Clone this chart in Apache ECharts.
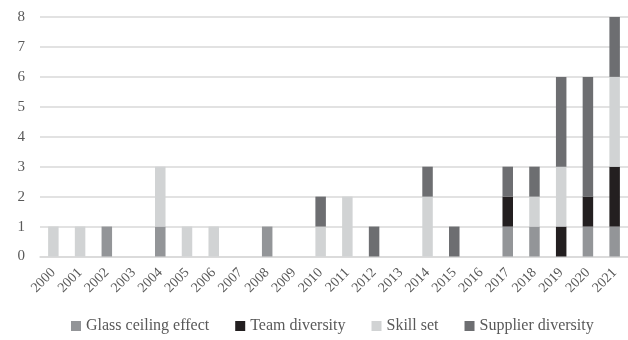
<!DOCTYPE html>
<html>
<head>
<meta charset="utf-8">
<script src="https://cdn.jsdelivr.net/npm/echarts@6/dist/echarts.min.js"></script>
<style>
  html, body {margin: 0; padding: 0; background: #fff;}
  #chart {width: 628px; height: 340px;}
</style>
</head>
<body>
<div id="chart"></div>
<script>
const years = ['2000', '2001', '2002', '2003', '2004', '2005', '2006', '2007', '2008', '2009', '2010',
    '2011', '2012', '2013', '2014', '2015', '2016', '2017', '2018', '2019', '2020', '2021']
const glassCeiling = [0, 0, 1, 0, 1, 0, 0, 0, 1, 0, 0, 0, 0, 0, 0, 0, 0, 1, 1, 0, 1, 1]
const teamDiversity = [0, 0, 0, 0, 0, 0, 0, 0, 0, 0, 0, 0, 0, 0, 0, 0, 0, 1, 0, 1, 1, 2]
const skillSet = [1, 1, 0, 0, 2, 1, 1, 0, 0, 0, 1, 2, 0, 0, 2, 0, 0, 0, 1, 2, 0, 3]
const supplierDiversity = [0, 0, 0, 0, 0, 0, 0, 0, 0, 0, 1, 0, 1, 0, 1, 1, 0, 1, 1, 3, 4, 2]

const font = '"Liberation Serif", "DejaVu Serif", serif'
const myChart = echarts.init(document.getElementById('chart'))
const option = {
    animation: false,
    grid: {left: 40, right: -1, top: 17, bottom: 83.5},
    legend: {
        bottom: 1,
        left: 66,
        itemWidth: 10,
        itemHeight: 10,
        itemGap: 26,
        icon: 'rect',
        textStyle: {fontFamily: font, fontSize: 16, color: '#595959'}
    },
    xAxis: {
        type: 'category',
        data: years,
        axisLine: {show: true, lineStyle: {color: '#d9d9d9', width: 1.5}},
        axisTick: {show: false},
        axisLabel: {
            rotate: 45,
            interval: 0,
            margin: 14,
            fontFamily: font,
            fontSize: 14,
            color: '#595959'
        }
    },
    yAxis: {
        type: 'value',
        min: 0,
        max: 8,
        interval: 1,
        axisLabel: {fontFamily: font, fontSize: 15, color: '#595959', margin: 15},
        splitLine: {lineStyle: {color: '#d9d9d9', width: 1.5}},
        axisLine: {show: false},
        axisTick: {show: false}
    },
    series: [
        {name: 'Glass ceiling effect', data: glassCeiling, color: '#939598'},
        {name: 'Team diversity', data: teamDiversity, color: '#231f20'},
        {name: 'Skill set', data: skillSet, color: '#d1d3d4'},
        {name: 'Supplier diversity', data: supplierDiversity, color: '#6d6e71'}
    ].map(obj => {
        return {
            ...obj,
            type: 'bar',
            stack: 'total',
            barWidth: 10.5,
            data: obj.data.map(v => v === 0 ? null : v)
        }
    })
}
myChart.setOption(option)
</script>
</body>
</html>
